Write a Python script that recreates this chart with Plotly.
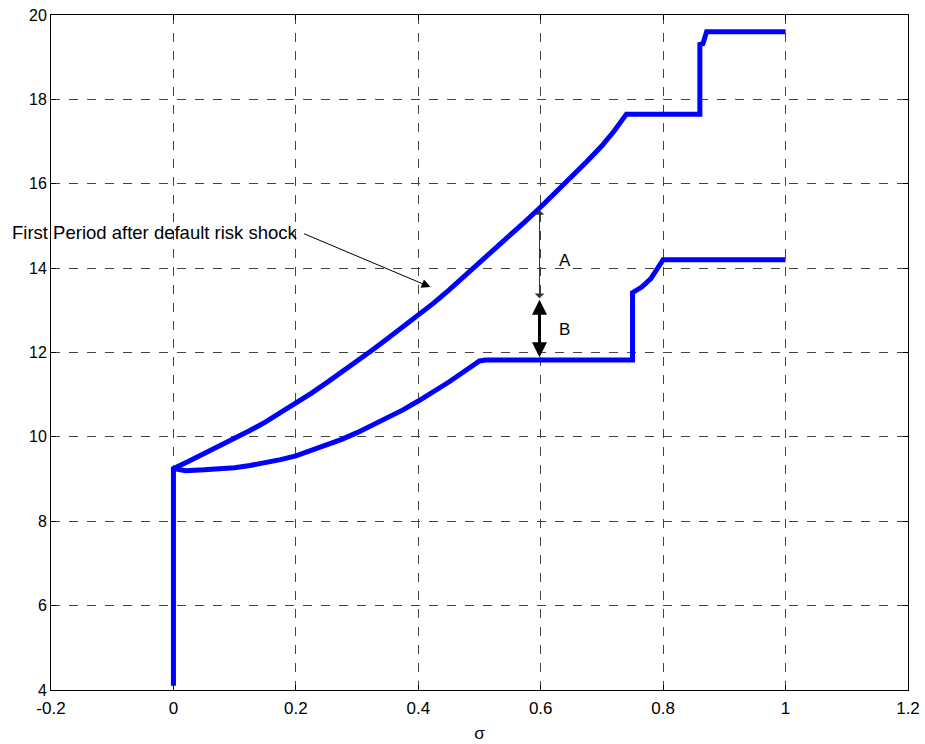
import plotly.graph_objects as go

# Upper curve: first period after default risk shock
sigma_upper = [0.0, 0.0, 0.025, 0.05, 0.075, 0.10, 0.125, 0.15, 0.175, 0.20, 0.225, 0.25, 0.275,
               0.30, 0.325, 0.35, 0.375, 0.40, 0.425, 0.45, 0.475, 0.50, 0.525, 0.55, 0.575,
               0.60, 0.625, 0.65, 0.675, 0.70, 0.72, 0.74, 0.86, 0.86, 0.865, 0.871, 1.0]
value_upper = [4.1, 9.25, 9.42, 9.6, 9.77, 9.95, 10.15, 10.35, 10.57, 10.8, 11.03, 11.28, 11.53,
               11.8, 12.06, 12.33, 12.6, 12.88, 13.17, 13.48, 13.8, 14.12, 14.45, 14.78, 15.11,
               15.45, 15.8, 16.15, 16.52, 16.9, 17.25, 17.65, 17.65, 19.3, 19.32, 19.6, 19.6]

# Lower curve
sigma_lower = [0.0, 0.02, 0.05, 0.075, 0.10, 0.125, 0.15, 0.175, 0.20, 0.225, 0.25, 0.275,
               0.30, 0.325, 0.35, 0.375, 0.40, 0.425, 0.45, 0.475, 0.50, 0.51, 0.75, 0.75,
               0.765, 0.78, 0.79, 0.80, 1.0]
value_lower = [9.25, 9.2, 9.22, 9.24, 9.27, 9.32, 9.38, 9.46, 9.55, 9.67, 9.8, 9.94,
               10.1, 10.27, 10.45, 10.64, 10.85, 11.07, 11.3, 11.55, 11.8, 11.82, 11.82, 13.42,
               13.55, 13.75, 13.95, 14.2, 14.2]

x_ticks = [-0.2, 0, 0.2, 0.4, 0.6, 0.8, 1, 1.2]
x_tick_labels = ["-0.2", "0", "0.2", "0.4", "0.6", "0.8", "1", "1.2"]
y_ticks = [4, 6, 8, 10, 12, 14, 16, 18, 20]

label_text = "First Period after default risk shock"

font_family = "Liberation Sans, Arial, sans-serif"

fig = go.Figure()
fig.add_trace(go.Scatter(x=sigma_upper, y=value_upper, mode="lines",
                         line=dict(color="#0000FF", width=5), showlegend=False))
fig.add_trace(go.Scatter(x=sigma_lower, y=value_lower, mode="lines",
                         line=dict(color="#0000FF", width=5), showlegend=False))

annotations = [
    dict(x=10, y=233, xref="paper", yref="paper", text=label_text, showarrow=False,
         xanchor="left", yanchor="middle", font=dict(size=18.5, color="black", family=font_family)),
    dict(x=0.42, y=13.55, ax=0.211, ay=14.83, xref="x", yref="y", axref="x", ayref="y",
         text="", showarrow=True, arrowhead=2, arrowsize=1.8, arrowwidth=1, arrowcolor="black"),
    dict(x=0.598, y=15.38, ax=0.598, ay=13.25, xref="x", yref="y", axref="x", ayref="y",
         text="", showarrow=True, arrowhead=1, arrowsize=1.6, arrowwidth=1,
         arrowside="end+start", arrowcolor="#333"),
    dict(x=0.598, y=13.25, ax=0.598, ay=11.85, xref="x", yref="y", axref="x", ayref="y",
         text="", showarrow=True, arrowhead=2, arrowsize=1, arrowwidth=3,
         arrowside="end+start", arrowcolor="black"),
    dict(x=0.639, y=14.19, xref="x", yref="y", text="A", showarrow=False,
         font=dict(size=17, color="black", family=font_family)),
    dict(x=0.639, y=12.54, xref="x", yref="y", text="B", showarrow=False,
         font=dict(size=17, color="black", family=font_family)),
]

# convert the label's pixel position to paper coordinates
L, R, T, B, W, H = 51, 17, 15, 54, 925, 744
pw, ph = W - L - R, H - T - B
annotations[0]["x"] = (10 - L) / pw
annotations[0]["y"] = 1 - (233 - T) / ph

fig.update_layout(
    width=W, height=H,
    margin=dict(l=L, r=R, t=T, b=B, autoexpand=False),
    paper_bgcolor="white", plot_bgcolor="white",
    font=dict(family=font_family, size=16, color="black"),
    annotations=annotations,
    xaxis=dict(range=[-0.2, 1.2], tickvals=x_ticks, ticktext=x_tick_labels,
               showgrid=True, gridcolor="#444", griddash="dash", gridwidth=1,
               showline=True, linecolor="black", linewidth=1, mirror="ticks",
               ticks="inside", ticklen=5, tickcolor="black", zeroline=False,
               ticklabelstandoff=3, automargin=False, tickfont=dict(size=17),
               title=dict(text="σ", font=dict(size=17), standoff=9)),
    yaxis=dict(range=[4, 20], tickvals=y_ticks,
               showgrid=True, gridcolor="#444", griddash="dash", gridwidth=1,
               showline=True, linecolor="black", linewidth=1, mirror="ticks",
               ticks="inside", ticklen=5, tickcolor="black", zeroline=False,
               automargin=False, tickfont=dict(size=16)),
)

fig.write_html("out.html", post_script="document.body.style.margin='0';",
               config={"displayModeBar": False})
